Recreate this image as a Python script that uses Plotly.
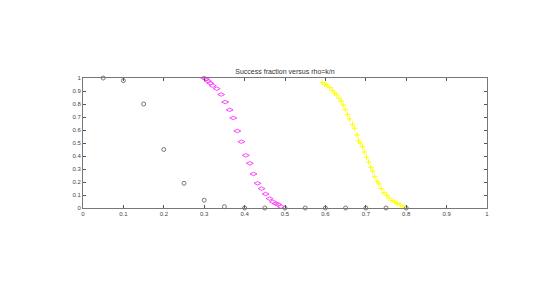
import plotly.graph_objects as go

# Black circles
rho_a = [0.05, 0.10, 0.15, 0.20, 0.25, 0.30, 0.35, 0.40, 0.45, 0.50, 0.55, 0.60, 0.65, 0.70, 0.75, 0.80]
frac_a = [1.00, 0.98, 0.80, 0.45, 0.19, 0.06, 0.01, 0.0, 0.0, 0.0, 0.0, 0.0, 0.0, 0.0, 0.0, 0.0]

# Magenta diamonds
rho_b = [0.300, 0.305, 0.310, 0.315, 0.321, 0.331, 0.342, 0.352, 0.363, 0.372, 0.382, 0.392,
         0.403, 0.413, 0.422, 0.432, 0.442, 0.452, 0.462, 0.470, 0.477, 0.483, 0.490]
frac_b = [1.00, 0.990, 0.975, 0.960, 0.941, 0.918, 0.873, 0.815, 0.755, 0.693, 0.592, 0.510,
          0.405, 0.344, 0.262, 0.190, 0.149, 0.108, 0.072, 0.048, 0.034, 0.028, 0.01]

# Yellow plus
rho_c = [0.592, 0.599, 0.604, 0.611, 0.617, 0.622, 0.627, 0.634, 0.639, 0.644, 0.649, 0.655,
         0.660, 0.667, 0.672, 0.678, 0.682, 0.686, 0.692, 0.696, 0.702, 0.707, 0.712, 0.717,
         0.722, 0.728, 0.733, 0.738, 0.745, 0.752, 0.757, 0.765, 0.772, 0.778, 0.785, 0.792]
frac_c = [0.967, 0.951, 0.940, 0.926, 0.905, 0.885, 0.870, 0.844, 0.823, 0.792, 0.757, 0.720,
          0.685, 0.644, 0.613, 0.562, 0.520, 0.500, 0.470, 0.431, 0.390, 0.354, 0.313, 0.282,
          0.241, 0.205, 0.185, 0.149, 0.118, 0.098, 0.077, 0.057, 0.046, 0.036, 0.026, 0.012]

ticks = [0, 0.1, 0.2, 0.3, 0.4, 0.5, 0.6, 0.7, 0.8, 0.9, 1]
tick_text = ["0", "0.1", "0.2", "0.3", "0.4", "0.5", "0.6", "0.7", "0.8", "0.9", "1"]

fig = go.Figure()
fig.add_trace(go.Scatter(x=rho_a, y=frac_a, mode="markers",
                         marker=dict(symbol="circle-open", size=4, color="#777777", line=dict(width=1)),
                         cliponaxis=False))
fig.add_trace(go.Scatter(x=rho_b, y=frac_b, mode="markers",
                         marker=dict(symbol="diamond-wide-open", size=5, color="#ff44ff", line=dict(width=1)),
                         cliponaxis=False))
fig.add_trace(go.Scatter(x=rho_c, y=frac_c, mode="markers",
                         marker=dict(symbol="cross-thin-open", size=4, color="#ffff00", line=dict(width=1, color="#ffff00")),
                         cliponaxis=False))

axis_common = dict(range=[0, 1], tickvals=ticks, ticktext=tick_text, ticks="inside", ticklen=3,
                   tickcolor="#555555", showline=True, linecolor="#777777", linewidth=1,
                   mirror="ticks", showgrid=False, zeroline=False,
                   tickfont=dict(family="Liberation Sans", size=6, color="#444444"))

fig.update_layout(
    width=554, height=291,
    margin=dict(l=75, r=75, t=70, b=91),
    paper_bgcolor="white", plot_bgcolor="white",
    showlegend=False,
    title=dict(text="Success fraction versus rho=k/n", x=0.5, xanchor="center",
               y=1 - 66 / 291, yanchor="bottom",
               font=dict(family="Liberation Sans", size=7, color="#333333")),
    xaxis=axis_common,
    yaxis=axis_common,
)

fig.write_html("out.html")
